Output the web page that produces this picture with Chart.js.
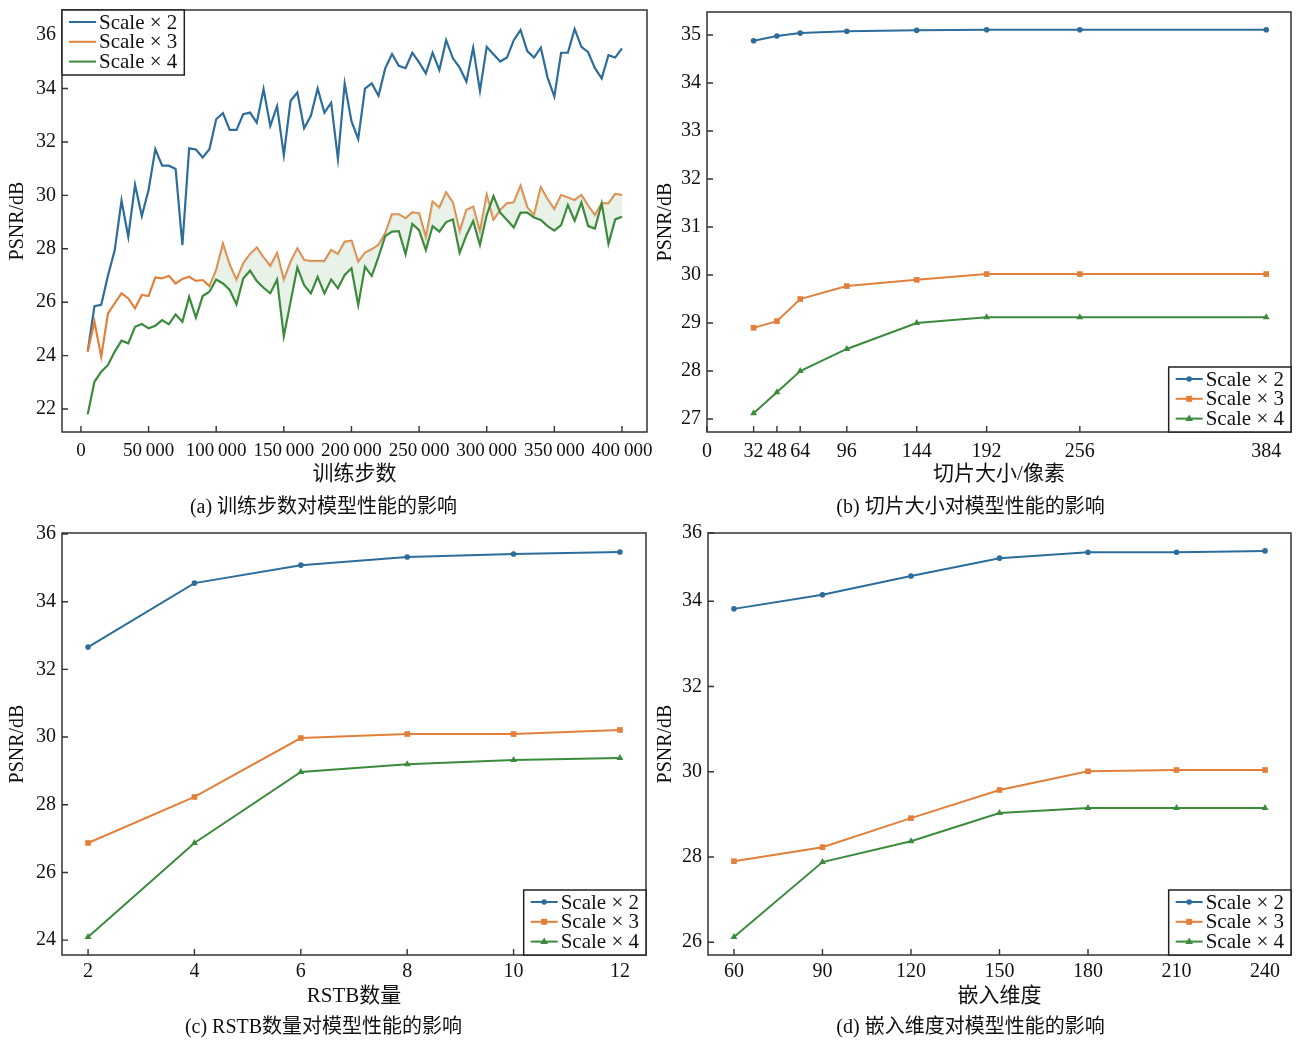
<!DOCTYPE html>
<html>
<head>
<meta charset="utf-8">
<script src="https://cdn.jsdelivr.net/npm/chart.js@4.4.0/dist/chart.umd.min.js"></script>
<style>
  body { margin: 0; background: #fff; width: 1298px; height: 1041px; position: relative; overflow: hidden; }
  canvas { position: absolute; }
</style>
</head>
<body>
<canvas id="chartA" width="662" height="520" style="left:0;top:0"></canvas>
<canvas id="chartB" width="648" height="520" style="left:650px;top:0"></canvas>
<canvas id="chartC" width="650" height="521" style="left:0;top:520px"></canvas>
<canvas id="chartD" width="648" height="521" style="left:650px;top:520px"></canvas>
<script>
// ---- data ----
const seriesNames = ['Scale × 2', 'Scale × 3', 'Scale × 4'];

// (a) training steps, one point every 5 000 steps
const stepsA = Array.from({ length: 80 }, (_, i) => (i + 1) * 5000);
const psnrA2 = [24.15, 25.85, 25.9, 27.0, 27.95, 29.8, 28.45, 30.4, 29.23, 30.2,
  31.73, 31.11, 31.11, 30.99, 28.14, 31.76, 31.72, 31.42, 31.73, 32.85,
  33.08, 32.45, 32.45, 33.04, 33.1, 32.72, 33.98, 32.6, 33.34, 31.51,
  33.54, 33.85, 32.51, 32.98, 34.0, 33.1, 33.47, 31.36, 34.19, 32.78,
  32.11, 34.0, 34.19, 33.73, 34.76, 35.29, 34.85, 34.76, 35.34, 34.98,
  34.57, 35.34, 34.69, 35.81, 35.13, 34.78, 34.26, 35.53, 33.91, 35.56,
  35.28, 35.01, 35.16, 35.81, 36.19, 35.4, 35.16, 35.53, 34.41, 33.7,
  35.34, 35.34, 36.23, 35.56, 35.36, 34.76, 34.38, 35.25, 35.16, 35.5];
const psnrA3 = [24.15, 25.27, 23.96, 25.58, 25.96, 26.33, 26.14, 25.77, 26.27, 26.23,
  26.93, 26.89, 26.99, 26.7, 26.87, 26.95, 26.8, 26.83, 26.6, 27.2,
  28.18, 27.39, 26.83, 27.45, 27.8, 28.04, 27.68, 27.35, 27.83, 26.83,
  27.51, 28.01, 27.58, 27.54, 27.54, 27.54, 27.95, 27.8, 28.26, 28.3,
  27.51, 27.85, 27.98, 28.14, 28.58, 29.29, 29.29, 29.14, 29.36, 29.32,
  28.41, 29.76, 29.54, 30.11, 29.73, 28.64, 29.45, 29.57, 28.64, 30.01,
  29.1, 29.45, 29.7, 29.73, 30.35, 29.55, 29.26, 30.3, 29.85, 29.48,
  30.01, 29.92, 29.82, 30.01, 29.61, 29.26, 29.7, 29.7, 30.05, 30.01];
const psnrA4 = [21.8, 23.02, 23.4, 23.65, 24.15, 24.56, 24.46, 25.08, 25.18, 25.02,
  25.12, 25.33, 25.17, 25.54, 25.27, 26.2, 25.42, 26.23, 26.39, 26.85,
  26.7, 26.46, 25.92, 26.89, 27.18, 26.79, 26.54, 26.33, 26.85, 24.73,
  26.02, 27.3, 26.64, 26.33, 26.95, 26.33, 26.85, 26.52, 27.02, 27.27,
  25.89, 27.33, 26.98, 27.7, 28.48, 28.64, 28.66, 27.8, 28.93, 28.7,
  27.95, 28.85, 28.64, 29.0, 29.1, 27.85, 28.51, 29.04, 28.14, 29.26,
  29.97, 29.35, 29.08, 28.8, 29.35, 29.35, 29.17, 29.08, 28.85, 28.68,
  28.89, 29.64, 29.05, 29.73, 28.85, 28.76, 29.7, 28.18, 29.1, 29.2];
const ticksAx = [0, 50000, 100000, 150000, 200000, 250000, 300000, 350000, 400000];
const ticksAy = [22, 24, 26, 28, 30, 32, 34, 36];

// (b) patch size
const patchB = [32, 48, 64, 96, 144, 192, 256, 384];
const psnrB2 = [34.88, 34.98, 35.04, 35.08, 35.1, 35.11, 35.11, 35.11];
const psnrB3 = [28.9, 29.04, 29.5, 29.77, 29.9, 30.02, 30.02, 30.02];
const psnrB4 = [27.12, 27.56, 28.0, 28.46, 29.0, 29.12, 29.12, 29.12];
const ticksBx = [0, 32, 48, 64, 96, 144, 192, 256, 384];
const ticksBy = [27, 28, 29, 30, 31, 32, 33, 34, 35];

// (c) number of RSTB
const rstbC = [2, 4, 6, 8, 10, 12];
const psnrC2 = [32.66, 34.55, 35.08, 35.32, 35.41, 35.47];
const psnrC3 = [26.87, 28.23, 29.97, 30.09, 30.09, 30.21];
const psnrC4 = [24.09, 26.87, 28.97, 29.2, 29.32, 29.38];
const ticksCx = [2, 4, 6, 8, 10, 12];
const ticksCy = [24, 26, 28, 30, 32, 34, 36];

// (d) embedding dimension
const embedD = [60, 90, 120, 150, 180, 210, 240];
const psnrD2 = [33.82, 34.15, 34.59, 35.01, 35.15, 35.15, 35.18];
const psnrD3 = [27.9, 28.23, 28.91, 29.57, 30.01, 30.04, 30.04];
const psnrD4 = [26.12, 27.88, 28.37, 29.03, 29.15, 29.15, 29.15];
const ticksDx = [60, 90, 120, 150, 180, 210, 240];
const ticksDy = [26, 28, 30, 32, 34, 35.6];
const ticksDyLabels = ['26', '28', '30', '32', '34', '36'];

// ---- style ----
const colors = ['#2c6d9b', '#e2803b', '#3c8b3c'];
const markers = ['circle', 'rect', 'triangle'];
const fillColor = 'rgba(205, 226, 205, 0.45)';
const FONT = "'Liberation Serif', 'Noto Sans CJK SC', serif";
Chart.defaults.font.family = FONT;
Chart.defaults.font.size = 20;
Chart.defaults.color = '#111';

function thousands(v) {
  return String(v).replace(/\B(?=(\d{3})+(?!\d))/g, '\u2009');
}

function drawMarker(ctx, style, x, y) {
  ctx.beginPath();
  if (style === 'circle') {
    ctx.arc(x, y, 2.8, 0, Math.PI * 2);
  } else if (style === 'rect') {
    ctx.rect(x - 3, y - 3, 6, 6);
  } else {
    ctx.moveTo(x, y - 4.2);
    ctx.lineTo(x + 3.8, y + 2.4);
    ctx.lineTo(x - 3.8, y + 2.4);
    ctx.closePath();
  }
  ctx.fill();
}

// frame, inward ticks and legend box drawn like the original figure
const framePlugin = {
  id: 'frame',
  afterDraw(chart, args, opts) {
    const { ctx, chartArea: a } = chart;
    const xs = chart.scales.x, ys = chart.scales.y;
    ctx.save();
    ctx.strokeStyle = '#333';
    ctx.lineWidth = 1.4;
    ctx.beginPath();
    xs.ticks.forEach(t => {
      const px = xs.getPixelForValue(t.value);
      ctx.moveTo(px, a.bottom); ctx.lineTo(px, a.bottom - 6);
    });
    ys.ticks.forEach(t => {
      const py = ys.getPixelForValue(t.value);
      ctx.moveTo(a.left, py); ctx.lineTo(a.left + 6, py);
    });
    ctx.stroke();
    ctx.lineWidth = 1.5;
    ctx.strokeRect(a.left, a.top, a.right - a.left, a.bottom - a.top);

    // legend
    ctx.font = '21px ' + FONT;
    const items = chart.data.datasets;
    let tw = 0;
    items.forEach(d => { tw = Math.max(tw, ctx.measureText(d.label).width); });
    const w = 38 + tw + 6, h = 65;
    const bx = opts.corner === 'ul' ? a.left : a.right - w;
    const by = opts.corner === 'ul' ? a.top : a.bottom - h;
    ctx.fillStyle = '#fff';
    ctx.fillRect(bx, by, w, h);
    ctx.strokeStyle = '#222';
    ctx.lineWidth = 1.5;
    ctx.strokeRect(bx, by, w, h);
    items.forEach((d, i) => {
      const y = by + 12 + i * 19.8;
      ctx.strokeStyle = d.borderColor;
      ctx.lineWidth = 2;
      ctx.beginPath();
      ctx.moveTo(bx + 7, y); ctx.lineTo(bx + 34, y);
      ctx.stroke();
      if (opts.markers) {
        ctx.fillStyle = d.borderColor;
        drawMarker(ctx, d.pointStyle, bx + 20.5, y);
      }
      ctx.fillStyle = '#111';
      ctx.textBaseline = 'middle';
      ctx.textAlign = 'left';
      ctx.fillText(d.label, bx + 37, y + 1);
    });
    ctx.restore();
  }
};

function makeChart(id, p) {
  return new Chart(document.getElementById(id), {
    type: 'line',
    data: { datasets: p.datasets },
    options: {
      responsive: false,
      animation: false,
      devicePixelRatio: 1,
      layout: { padding: p.pad },
      elements: { line: { tension: 0 } },
      scales: {
        x: {
          type: 'linear',
          min: p.x.min, max: p.x.max,
          afterBuildTicks: s => { s.ticks = p.x.ticks.map(v => ({ value: v })); },
          afterFit: s => { s.height = p.xHeight; s.paddingLeft = 0; s.paddingRight = 0; },
          grid: { display: false, drawTicks: false },
          border: { display: false },
          ticks: { padding: p.x.pad, autoSkip: false, maxRotation: 0, callback: p.x.fmt, font: { size: p.x.size || 20 } },
          title: { display: true, text: p.x.title, font: { size: 21 }, padding: { top: 4, bottom: p.x.titlePad } }
        },
        y: {
          type: 'linear',
          min: p.y.min, max: p.y.max,
          afterBuildTicks: s => { s.ticks = p.y.ticks.map(v => ({ value: v })); },
          afterFit: s => { s.width = p.yWidth; s.paddingTop = 0; s.paddingBottom = 0; },
          grid: { display: false, drawTicks: false },
          border: { display: false },
          ticks: { padding: 6, autoSkip: false, callback: p.y.fmt },
          title: { display: true, text: 'PSNR/dB', font: { size: 20 }, padding: { top: p.yTitlePad, bottom: 0 } }
        }
      },
      plugins: {
        legend: { display: false },
        tooltip: { enabled: false },
        title: {
          display: true, position: 'bottom', text: p.caption,
          font: { size: 20, weight: 'normal' }, color: '#111', padding: 0
        },
        frame: p.legend
      }
    },
    plugins: [framePlugin]
  });
}

function pts(xs, ys) { return xs.map((x, i) => ({ x: x, y: ys[i] })); }

function markedSets(xs, lists) {
  return lists.map((ys, i) => ({
    label: seriesNames[i],
    data: pts(xs, ys),
    borderColor: colors[i],
    backgroundColor: colors[i],
    borderWidth: 2,
    pointStyle: markers[i],
    pointRadius: i === 0 ? 2.8 : 4,
    pointBorderWidth: 0,
    order: 2 - i
  }));
}

// (a)
makeChart('chartA', {
  pad: { top: 10, right: 15, bottom: 0, left: 0 },
  xHeight: 64, yWidth: 62, yTitlePad: 6,
  caption: '(a) 训练步数对模型性能的影响',
  x: { min: -14000, max: 418500, ticks: ticksAx, fmt: v => thousands(v), pad: 8, size: 19, title: '训练步数', titlePad: 9 },
  y: { min: 21.14, max: 36.94, ticks: ticksAy, fmt: v => String(v) },
  legend: { corner: 'ul', markers: false },
  datasets: [
    { label: seriesNames[0], data: pts(stepsA, psnrA2), borderColor: colors[0], borderWidth: 2.2, pointRadius: 0, fill: false, order: 2 },
    { label: seriesNames[1], data: pts(stepsA, psnrA3), borderColor: colors[1], borderWidth: 2.2, pointRadius: 0, fill: false, order: 1 },
    {
      label: seriesNames[2], data: pts(stepsA, psnrA4), borderColor: colors[2], borderWidth: 2.2, pointRadius: 0, order: 0,
      fill: { target: 1 }, backgroundColor: fillColor,
      segment: { backgroundColor: c => c.p0DataIndex >= 18 ? fillColor : 'rgba(0,0,0,0)' }
    }
  ]
});

// (b)
makeChart('chartB', {
  pad: { top: 12, right: 7, bottom: 0, left: 0 },
  xHeight: 64, yWidth: 57, yTitlePad: 4,
  caption: '(b) 切片大小对模型性能的影响',
  x: { min: 0, max: 401, ticks: ticksBx, fmt: v => String(v), pad: 8, title: '切片大小/像素', titlePad: 9 },
  y: { min: 26.73, max: 35.48, ticks: ticksBy, fmt: v => String(v) },
  legend: { corner: 'lr', markers: true },
  datasets: markedSets(patchB, [psnrB2, psnrB3, psnrB4])
});

// (c)
makeChart('chartC', {
  pad: { top: 13, right: 3, bottom: 1, left: 0 },
  xHeight: 61, yWidth: 62, yTitlePad: 6,
  caption: '(c) RSTB数量对模型性能的影响',
  x: { min: 1.51, max: 12.49, ticks: ticksCx, fmt: v => String(v), pad: 5, title: 'RSTB数量', titlePad: 7 },
  y: { min: 23.56, max: 36.03, ticks: ticksCy, fmt: v => String(v) },
  legend: { corner: 'lr', markers: true },
  datasets: markedSets(rstbC, [psnrC2, psnrC3, psnrC4])
});

// (d)
makeChart('chartD', {
  pad: { top: 13, right: 7, bottom: 1, left: 0 },
  xHeight: 61, yWidth: 58, yTitlePad: 4,
  caption: '(d) 嵌入维度对模型性能的影响',
  x: { min: 51.2, max: 248.8, ticks: ticksDx, fmt: v => String(v), pad: 5, title: '嵌入维度', titlePad: 7 },
  y: { min: 25.7, max: 35.6, ticks: ticksDy, fmt: (v, i) => ticksDyLabels[i] },
  legend: { corner: 'lr', markers: true },
  datasets: markedSets(embedD, [psnrD2, psnrD3, psnrD4])
});
</script>
</body>
</html>
